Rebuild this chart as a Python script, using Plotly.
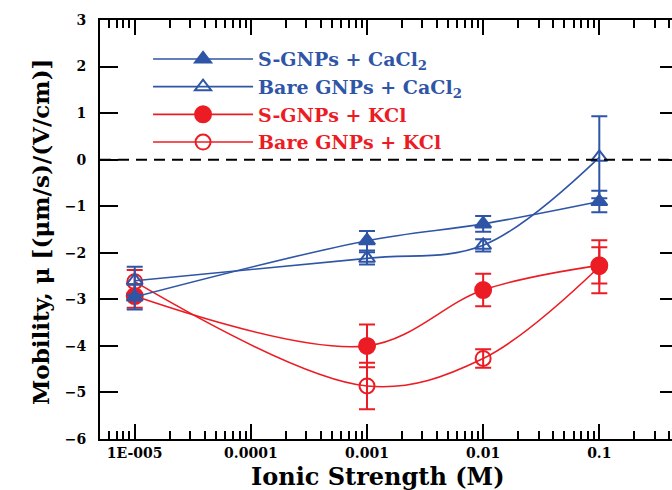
import plotly.graph_objects as go

# Ionic strength (M) and measured electrophoretic mobility with error bars
ionic_strength = [1e-5, 1e-3, 1e-2, 1e-1]

s_cacl2 = [-2.95, -1.74, -1.38, -0.90]
s_cacl2_err = [0.27, 0.21, 0.17, 0.23]

bare_cacl2 = [-2.60, -2.12, -1.84, 0.05]
bare_cacl2_err = [0.30, 0.13, 0.13, 0.88]

s_kcl = [-2.93, -4.00, -2.80, -2.27]
s_kcl_err = [0.25, 0.46, 0.35, 0.39]

bare_kcl = [-2.62, -4.86, -4.27, -2.30]
bare_kcl_err = [0.25, 0.50, 0.20, 0.57]

x_tickvals = [1e-5, 1e-4, 1e-3, 1e-2, 1e-1]
x_ticktext = ["1E-005", "0.0001", "0.001", "0.01", "0.1"]

BLUE = "#2f55a6"
RED = "#ec1c24"
FONT = "DejaVu Serif"

minor_vals = [m * 10.0 ** k for k in range(-6, 1) for m in range(2, 10)]


def series(x, y, err, name, color, symbol, size):
    return go.Scatter(
        x=x, y=y, name=name, mode="lines+markers",
        line=dict(color=color, width=1.6, shape="spline", smoothing=1.0),
        marker=dict(symbol=symbol, size=size, color=color,
                    line=dict(color=color, width=2)),
        error_y=dict(type="data", array=err, visible=True, color=color,
                     thickness=2, width=8),
    )


fig = go.Figure()
fig.add_trace(series(ionic_strength, bare_kcl, bare_kcl_err,
                     "<span style='color:%s'>Bare GNPs + KCl</span>" % RED, RED, "circle-open", 15))
fig.add_trace(series(ionic_strength, s_kcl, s_kcl_err,
                     "<span style='color:%s'>S-GNPs + KCl</span>" % RED, RED, "circle", 16))
fig.add_trace(series(ionic_strength, bare_cacl2, bare_cacl2_err,
                     "<span style='color:%s'>Bare GNPs + CaCl<sub>2</sub></span>" % BLUE, BLUE, "triangle-up-open", 14))
fig.add_trace(series(ionic_strength, s_cacl2, s_cacl2_err,
                     "<span style='color:%s'>S-GNPs + CaCl<sub>2</sub></span>" % BLUE, BLUE, "triangle-up", 14))
# carrier for the right-hand tick axis
fig.add_trace(go.Scatter(x=[], y=[], yaxis="y2", showlegend=False))

# dashed zero reference
fig.add_shape(type="line", xref="paper", x0=0, x1=1, yref="y", y0=0, y1=0,
              line=dict(color="black", width=2, dash="11px,7px"))

fig.update_layout(
    width=672, height=490,
    margin=dict(l=100, r=0, t=20, b=51),
    paper_bgcolor="white", plot_bgcolor="white",
    font=dict(family=FONT, color="black"),
    showlegend=True,
    legend=dict(
        x=0.084, y=0.952, xanchor="left", yanchor="top",
        traceorder="reversed", itemwidth=100,
        font=dict(family=FONT, size=19, weight="bold"),
        bgcolor="rgba(0,0,0,0)", tracegroupgap=0,
    ),
    xaxis=dict(
        type="log", range=[-5.299, -0.374],
        tickvals=x_tickvals, ticktext=x_ticktext,
        ticks="inside", ticklen=15, tickwidth=2, tickcolor="black",
        showline=True, linewidth=2, linecolor="black", mirror="ticks",
        showgrid=False, zeroline=False,
        tickfont=dict(family=FONT, size=14, weight="bold"),
        ticklabelstandoff=0,
        minor=dict(tickvals=minor_vals, ticks="inside", ticklen=8,
                   tickwidth=1.5, tickcolor="black", showgrid=False),
    ),
    yaxis=dict(
        range=[-6, 3], dtick=1, tick0=0,
        ticks="inside", ticklen=18, tickwidth=2, tickcolor="black",
        showline=True, linewidth=2, linecolor="black", mirror=False,
        showgrid=False, zeroline=False,
        tickfont=dict(family=FONT, size=14, weight="bold"),
        ticklabelstandoff=9,
    ),
    yaxis2=dict(
        overlaying="y", side="right", anchor="x",
        range=[-6, 3], dtick=1, tick0=0,
        ticks="inside", ticklen=12, tickwidth=2, tickcolor="black",
        showline=False, showgrid=False, zeroline=False, showticklabels=False,
    ),
    annotations=[
        dict(text="<b>Ionic Strength (M)</b>", xref="paper", yref="paper",
             x=0.486, y=-0.0895, xanchor="center", yanchor="middle",
             showarrow=False, font=dict(family=FONT, size=24, color="black")),
        dict(text="<b>Mobility, \u03bc [(\u03bcm/s)/(V/cm)]</b>", xref="paper", yref="paper",
             x=-0.105, y=0.496, xanchor="center", yanchor="middle", textangle=-90,
             showarrow=False, font=dict(family=FONT, size=23, color="black")),
    ],
)

fig.write_html("out.html")
